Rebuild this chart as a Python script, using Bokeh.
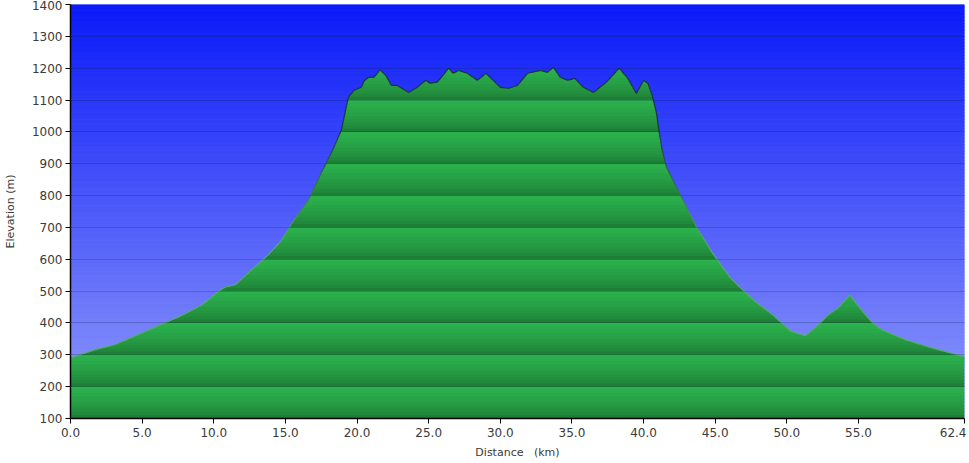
import numpy as np
from bokeh.plotting import figure
from bokeh.models import FixedTicker, PrintfTickFormatter, Range1d
from bokeh.embed import file_html
from bokeh.resources import INLINE

# ---- data ----
dist_km = [0.0, 1.7, 3.1, 5.2, 7.6, 9.2, 10.3, 10.8, 11.5, 12.4, 13.8, 14.7, 15.6, 16.6,
           17.5, 18.3, 18.9, 19.2, 19.4, 19.8, 20.3, 20.5, 20.8, 21.2, 21.6, 22.0, 22.4,
           22.8, 23.6, 24.2, 24.8, 25.1, 25.6, 26.4, 26.7, 27.1, 27.7, 28.4, 29.0, 29.5,
           30.0, 30.6, 31.2, 31.9, 32.8, 33.3, 33.7, 34.2, 34.7, 35.2, 35.8, 36.5, 37.4,
           38.3, 38.9, 39.5, 40.0, 40.3, 40.6, 40.9, 41.1, 41.3, 41.6, 42.5, 43.7, 44.8,
           46.0, 46.7, 47.8, 49.0, 50.3, 51.3, 52.2, 52.9, 53.6, 54.4, 55.2, 55.9, 56.6,
           58.3, 60.1, 62.4]
elev_m = [290, 316, 332, 373, 420, 457, 498, 513, 520, 557, 614, 658, 723, 786,
          871, 943, 1005, 1068, 1109, 1131, 1140, 1160, 1171, 1172, 1195, 1178, 1146,
          1146, 1124, 1140, 1162, 1153, 1156, 1200, 1184, 1193, 1184, 1162, 1184, 1162,
          1140, 1137, 1146, 1184, 1193, 1187, 1203, 1171, 1162, 1168, 1140, 1124, 1156,
          1200, 1168, 1121, 1162, 1153, 1115, 1059, 996, 943, 889, 808, 701, 620,
          545, 513, 467, 426, 373, 360, 394, 426, 448, 488, 441, 404, 379,
          347, 322, 294]
x_ticks = [0.0, 5.0, 10.0, 15.0, 20.0, 25.0, 30.0, 35.0, 40.0, 45.0, 50.0, 55.0, 62.4]
y_ticks = [100, 200, 300, 400, 500, 600, 700, 800, 900, 1000, 1100, 1200, 1300, 1400]

x0 = np.array(dist_km, dtype=float)
y0 = np.array(elev_m, dtype=float)
xmin, xmax = x_ticks[0], x_ticks[-1]
ymin, ymax = y_ticks[0], y_ticks[-1]

W, H = 966, 462
p = figure(width=W, height=H, output_backend="svg", toolbar_location=None,
           x_range=Range1d(xmin, xmax), y_range=Range1d(ymin, ymax),
           min_border_left=61, min_border_right=2, min_border_top=4, min_border_bottom=44)
p.outline_line_color = None
p.background_fill_color = "white"
p.border_fill_color = "white"

def hexc(c):
    return "#%02x%02x%02x" % tuple(int(round(v)) for v in c)

# ---- blue sky gradient (stripes) ----
nsky = 130
edges = np.linspace(ymin, ymax, nsky + 1)
top_c = np.array([10, 26, 248])
bot_c = np.array([146, 156, 250])
sky_cols = []
for i in range(nsky):
    t = (edges[i] + edges[i + 1]) / 2
    f = (t - ymin) / (ymax - ymin)
    sky_cols.append(hexc(bot_c + (top_c - bot_c) * f))
p.quad(left=xmin, right=xmax, bottom=edges[:-1], top=edges[1:],
       fill_color=sky_cols, line_color=sky_cols, line_width=1)

# ---- green banded terrain ----
dark = np.array([26, 114, 48])
light = np.array([44, 178, 78])
nsub = 10
band = y_ticks[1] - y_ticks[0]
OV = 2.5
levels = []
for b0 in y_ticks[:-1]:
    for j in range(nsub + 1):
        lv = b0 + band * j / nsub
        levels += [lv, lv + OV]
levels = sorted(set(levels))

# exact crossing points of the polyline with every stripe level (same shape, finer vertices)
xs = list(x0)
for i in range(len(x0) - 1):
    ya, yb = y0[i], y0[i + 1]
    lo, hi = min(ya, yb), max(ya, yb)
    for lv in levels:
        if lo < lv < hi:
            xs.append(x0[i] + (lv - ya) / (yb - ya) * (x0[i + 1] - x0[i]))
xs = np.array(sorted(set(xs)))
ys = np.interp(xs, x0, y0)

for b0 in y_ticks[:-1]:
    for j in range(nsub):
        a = b0 + band * j / nsub
        bb = b0 + band * (j + 1) / nsub
        if a >= ys.max():
            continue
        f = ((j + 0.5) / nsub) ** 0.55
        col = hexc(dark + (light - dark) * f)
        top = np.clip(np.minimum(ys, bb + OV), a, None)
        p.varea(x=xs, y1=np.full_like(xs, a), y2=top, fill_color=col)

# outline: dark on the high ground, fading to a soft green edge lower down
edge_dark = np.array([28, 52, 58])
edge_soft = np.array([88, 170, 110])
seg_x, seg_y, seg_c = [], [], []
for i in range(len(xs) - 1):
    ym = (ys[i] + ys[i + 1]) / 2
    f = np.clip((ym - 650) / 350, 0, 1)
    seg_x.append([xs[i], xs[i + 1]])
    seg_y.append([ys[i], ys[i + 1]])
    seg_c.append(hexc(edge_soft + (edge_dark - edge_soft) * f))
p.multi_line(xs=seg_x, ys=seg_y, line_color=seg_c, line_width=1.2)

# ---- axes ----
p.xaxis.ticker = FixedTicker(ticks=x_ticks)
p.xaxis.formatter = PrintfTickFormatter(format="%.1f")
p.yaxis.ticker = FixedTicker(ticks=y_ticks)
p.xgrid.visible = False
p.ygrid.ticker = FixedTicker(ticks=y_ticks)
p.ygrid.grid_line_color = "#0c1640"
p.ygrid.grid_line_alpha = 0.22
p.ygrid.level = "overlay"

for ax in (p.xaxis, p.yaxis):
    ax.axis_line_color = "black"
    ax.axis_line_width = 1.5
    ax.major_tick_line_color = "black"
    ax.major_tick_out = 5
    ax.major_tick_in = 0
    ax.minor_tick_line_color = None
    ax.major_label_text_font = "DejaVu Sans"
    ax.major_label_text_font_size = "12px"
    ax.major_label_text_color = "#3a3a3a"
    ax.axis_label_text_font = "DejaVu Sans"
    ax.axis_label_text_font_size = "11px"
    ax.axis_label_text_font_style = "normal"
    ax.axis_label_text_color = "#3a3a3a"

p.xaxis.axis_label = "Distance\u00a0\u00a0\u00a0(km)"
p.yaxis.axis_label = "Elevation (m)"
p.xaxis.major_label_standoff = 4
p.xaxis.axis_label_standoff = 6
p.yaxis.major_label_standoff = 3
p.yaxis.axis_label_standoff = 12

open("out.html", "w").write(file_html(p, INLINE))
